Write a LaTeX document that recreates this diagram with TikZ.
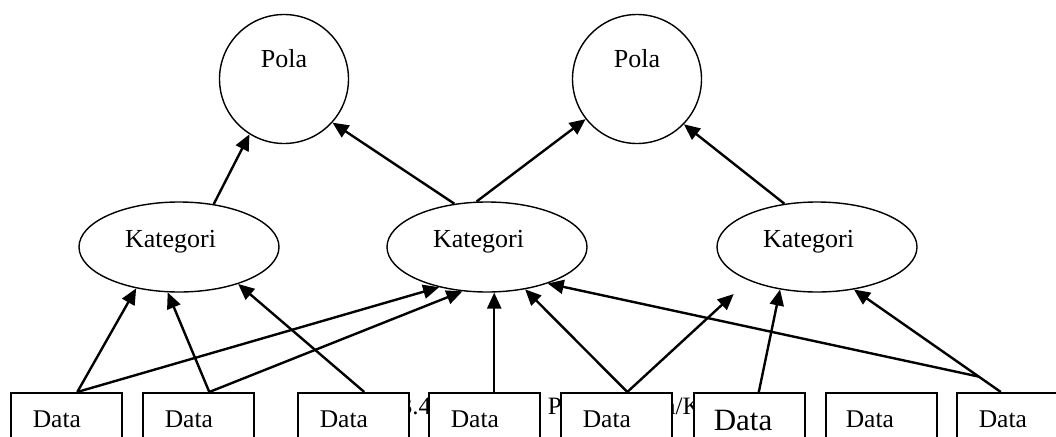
\documentclass[tikz,border=0pt]{standalone}
\usepackage{fontspec}
\setmainfont{Liberation Serif}
\usetikzlibrary{arrows.meta,shapes.geometric,calc}
\begin{document}
\begin{tikzpicture}[x=1pt,y=-1pt,
  polanode/.style={circle,draw,line width=1.4pt,minimum size=129pt,inner sep=0pt},
  katnode/.style={ellipse,draw,line width=1.4pt,minimum width=200pt,minimum height=90pt,inner sep=0pt},
  databox/.style={draw,fill=white,line width=1.6pt,anchor=north west,text width=67pt,inner xsep=22pt,inner ysep=0pt,text height=35pt,text depth=35pt,align=left,font=\fontsize{25.5}{30}\selectfont},
  bigbox/.style={databox,text width=71pt,inner xsep=20pt,text height=38pt,text depth=32pt,font=\fontsize{31}{36}\selectfont},
  arr/.style={line width=2.4pt,-{Triangle[length=16pt,width=14pt]}},
  lbl/.style={font=\fontsize{26}{30}\selectfont},
  captext/.style={anchor=base west,inner sep=0pt,font=\fontsize{25}{30}\selectfont}
]
\useasboundingbox (0,0) rectangle (1056,436);
\clip (0,0) rectangle (1056,436);

% top level
\node[polanode,label={[lbl,yshift=20pt]center:Pola}] (p1) at (284,79) {};
\node[polanode,label={[lbl,yshift=20pt]center:Pola}] (p2) at (637,79) {};

% middle level
\node[katnode,label={[lbl,xshift=-8.5pt,yshift=5.75pt]center:Kategori}] (k1) at (179,247) {};
\node[katnode,label={[lbl,xshift=-8.5pt,yshift=5.75pt]center:Kategori}] (k2) at (487,247) {};
\node[katnode,label={[lbl,xshift=-8.5pt,yshift=5.75pt]center:Kategori}] (k3) at (817,247) {};

% caption (mostly hidden behind the boxes)
\node[captext] (cap) at (313,414) {Gambar 3.4 Hubungan Pengetahuan/Kategori};

% bottom level
\node[databox] (d1) at (10,392) {Data};
\node[databox] (d2) at (142,392) {Data};
\node[databox] (d3) at (297,392) {Data};
\node[databox] (d4) at (428,392) {Data};
\node[databox] (d5) at (560,392) {Data};
\node[bigbox]  (d6) at (693,392) {Data};
\node[databox,inner xsep=20pt,text width=71pt] (d7) at (825,392) {Data};
\node[databox] (d8) at (956,392) {Data};

% tails
\coordinate (t1) at ([xshift=11pt]d1.north);
\coordinate (t2) at ([xshift=11pt]d2.north);
\coordinate (t3) at ([xshift=11pt]d3.north);
\coordinate (t5) at ([xshift=11pt]d5.north);
\coordinate (t6) at ([xshift=9.5pt]d6.north);
\coordinate (t8) at ([xshift=-11.5pt]d8.north);
\coordinate (m8) at ($(t8)!0.15!(k3.-49)$);

% Kategori -> Pola
\draw[arr] (k1.51) -- (p1.-122);
\draw[arr] (k2.127) -- (p1.-42);
\draw[arr] (k2.103) -- (p2.-142);
\draw[arr] (k3.127) -- (p2.-44);

% Data -> Kategori
\draw[arr] (t1) -- (k1.-136);
\draw[arr] (t1) -- (k2.-140);
\draw[arr] (t2) -- (k1.-104);
\draw[arr] (t2) -- (k2.-119);
\draw[arr] (t3) -- (k1.-32);
\draw[arr] (k2.-81 |- d4.north) -- (k2.-81);
\draw[arr] (t5) -- (k2.-48);
\draw[arr,shorten >=20pt] (t5) -- (k3.-154);
\draw[arr] (t6) -- (k3.-131);
\draw[arr] (t8) -- (k3.-49);
\draw[arr] (m8) -- (k2.-31);
\end{tikzpicture}
\end{document}
